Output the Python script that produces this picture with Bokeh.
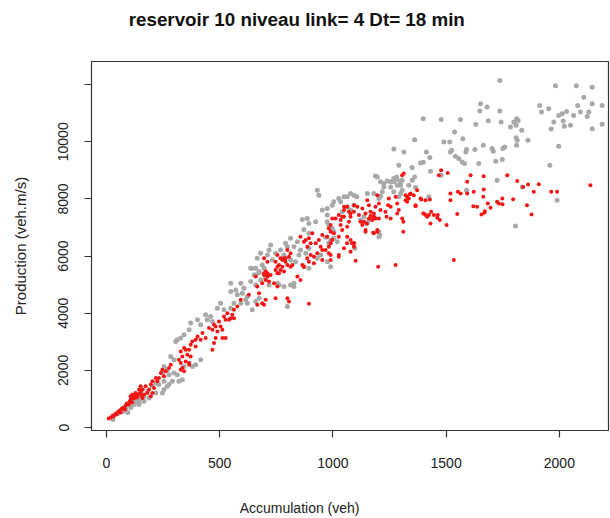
from bokeh.plotting import figure
from bokeh.models import Range1d, FixedTicker, LinearAxis
from bokeh.embed import file_html
from bokeh.resources import INLINE

title_text = "reservoir  10  niveau link= 4  Dt= 18 min"
x_label = "Accumulation (veh)"
y_label = "Production (veh.m/s)"
x_ticks = [0, 500, 1000, 1500, 2000]
y_ticks = [0, 2000, 4000, 6000, 8000, 10000, 12000]

gray_x = [1737, 1983, 2075, 2145, 2108, 1913, 1953, 1921, 2081, 2145, 2189, 2093, 2130, 2123, 1997, 2012, 2031, 2063, 1975, 2017,
          2049, 2022, 2145, 2189, 1964, 1997, 1958, 1990, 1652, 1681, 1649, 1737, 1811, 1818, 1799, 1809, 1784, 1834, 1861, 1809,
          1814, 1811, 1743, 1686, 1631, 1563, 1478, 1399, 1537, 1574, 1490, 1516, 1590, 1587, 1627, 1664, 1703, 1708, 1750, 1759,
          1644, 1719, 1748, 1541, 1556, 1571, 1581, 1519, 1524, 1428, 1413, 1361, 1313, 1269, 1387, 1399, 1350, 1291, 1431, 1478,
          1361, 1269, 1255, 1240, 1225, 1210, 1196, 1188, 1299, 1299, 1281, 1725, 1836, 1590, 1424, 1365, 1049, 1078, 1105, 1181,
          1210, 1203, 1291, 1299, 1207, 1806, 1097,
          1269, 1284, 1306, 1225, 1255, 1284, 1335, 1350, 1218, 1269, 1306,
          1152, 1093, 1063, 1026, 1004, 997, 975, 953, 975, 1034, 1041, 1063, 1078, 1093, 931, 938,
          865, 887, 894, 872, 894, 924, 975, 982, 997, 1004, 968, 990, 982, 1004, 1019, 1093,
          1122, 1137, 1152, 1159, 1181, 1203, 1203,
          843, 828, 857, 880, 850, 894, 813, 791, 799, 769, 784, 813, 835, 725, 718, 711, 747, 733,
          681, 666, 688, 659, 674, 696, 637, 652, 681, 703, 718, 755, 784, 813, 828, 872, 894, 990, 975, 931, 946,
          644, 659, 674, 637, 659, 549, 593, 571, 549, 607, 578, 600, 622, 615, 622, 593, 563,
          504, 490, 519, 549, 460, 438, 445, 468, 372, 402, 416, 365, 343, 328, 313, 306, 284, 298, 416,
          394, 379, 343, 254, 269, 247, 276, 298, 313, 335, 320, 291, 276, 254, 269, 254, 232, 247, 218, 203,
          218, 181, 166, 151, 137, 122, 144, 115, 166, 188, 674, 659, 644, 799, 828, 762,
          28, 50, 72, 85, 94, 107, 120, 129, 143, 151]
gray_y = [12145, 11960, 11960, 11912, 11562, 11273, 11157, 11040, 11273, 11332, 11273, 11040, 11040, 10889, 10924, 10982, 11063, 10924, 10690, 10725,
          10575, 10540, 10460, 10610, 10446, 9842, 9179, 7957, 11332, 11214, 11074, 11074, 10808, 10749, 10690, 10575, 10516, 10400, 10051, 10145,
          10051, 9877, 10690, 10738, 10610, 10784, 10784, 10808, 10341, 10110, 9993, 9993, 9727, 9643, 9727, 9877, 9762, 9667, 9762, 9818,
          9238, 9318, 9378, 9493, 9412, 9294, 9238, 9643, 9702, 9447, 9643, 10075, 9643, 9748, 9259, 9283, 9098, 9179, 8969, 8830,
          8771, 8714, 8597, 8631, 8540, 8597, 8771, 8805, 8597, 8481, 8771, 8655, 8421, 8306, 8072, 8400, 8072, 8191, 8072, 8191,
          8097, 8017, 8072, 8191, 6736, 7050, 6271,
          8597, 8679, 8655, 8421, 8421, 8481, 8481, 8655, 8247, 8247, 8306,
          8191, 8132, 8072, 8017, 7898, 7783, 7667, 7609, 7434, 7898, 7549, 7725, 7609, 7783, 8306, 8132,
          7283, 7318, 7144, 6934, 6795, 7201, 7201, 7085, 6969, 6852, 6655, 6561, 6446, 6620, 6503, 6446,
          7259, 7375, 7144, 7259, 7353, 6851, 6676,
          6503, 6329, 6213, 6096, 6038, 6271, 6620, 6446, 6329, 6213, 6038, 5863, 5805, 6387, 6213, 6038, 6096, 5863,
          6096, 5922, 5689, 5573, 5456, 5573, 5573, 5340, 5165, 5224, 4991, 5050, 4931, 4991, 4931, 5630, 5573, 5630, 5805, 5922, 6038,
          5573, 5340, 5420, 5106, 4991, 5050, 5050, 4816, 4757, 4875, 4642, 4701, 4582, 4467, 4352, 4352, 4352,
          4352, 4177, 4118, 4177, 3884, 3944, 3769, 3710, 3654, 3769, 3595, 3420, 3246, 3131, 3071, 3012, 2488, 2373, 2373,
          2199, 2139, 2139, 2139, 2024, 1909, 1850, 1909, 1850, 1675, 1616, 1616, 1501, 1616, 1441, 1326, 1501, 1211, 1560, 1441,
          1211, 1267, 1092, 1211, 977, 862, 862, 977, 918, 1036, 4527, 4408, 4118, 4233, 5050, 4991,
          279, 489, 558, 663, 524, 698, 803, 907, 803, 1012]

red_x = [2137, 1964, 1990, 1909, 1862, 1887, 1814, 1840, 1877, 1857, 1770, 1796, 1748, 1749, 1725, 1733, 1684, 1696, 1669, 1656,
         1671, 1620, 1637, 1664, 1666, 1666, 1608, 1593, 1552, 1564, 1622, 1593, 1519, 1519, 1549, 1502, 1463, 1472, 1461, 1434,
         1446, 1399, 1409, 1431, 1428, 1390, 1365, 1321, 1328, 1340, 1311, 1311, 1306, 1478, 1507, 1468, 1244, 1255, 1284, 1237,
         1203, 1181, 1166, 1174, 1196, 1178, 1137, 1149, 1130, 1144, 1108, 1093, 1063, 1078, 1049, 1041, 1071, 1063, 1093,
         1049, 1100, 1200, 1277, 1534,
         1313, 1321, 1335, 1343, 1357, 1328, 1365, 1387, 1409, 1401, 1416, 1424, 1372, 1277, 1284, 1291, 1306,
         1247, 1232, 1255, 1196, 1203, 1188, 1210, 1181, 1188, 1159, 1166,
         1152, 1159, 1130, 1144, 1093, 1078, 1115, 1122, 1144, 1196, 1181,
         1049, 1071, 1049, 1034, 1026, 1012, 997, 990, 982, 990, 1004, 975, 997, 990, 982, 968, 982, 990,
         1034, 1041, 1026, 1063, 1078, 1085, 1093, 1063, 1026, 1078,
         953, 938, 924, 946, 953, 931, 916, 909, 894, 880, 902, 857, 872, 887, 902, 887, 894, 916, 953, 990, 1026,
         799, 813, 806, 755, 769, 784, 791, 762, 777, 813, 821, 747, 747, 755, 784, 865, 872,
         696, 711, 703, 696, 711, 659, 688, 666, 843, 857,
         696, 711, 703, 718, 740, 755, 747, 725, 762, 777, 791, 799, 755, 769, 799, 806,
         629, 674, 688, 696, 703, 666, 593, 578, 563, 534, 556, 549, 563, 541, 526, 519,
         497, 482, 504, 512, 490, 468, 453, 475, 512, 526, 482, 475, 468, 424, 438, 416, 402,
         394, 379, 372, 394, 365, 350, 343, 328, 357, 372, 335, 320, 328, 350, 365, 335, 328, 343, 365,
         284, 276, 262, 247, 240, 254, 232, 225, 218, 203, 196, 210, 188, 173, 181, 166, 159, 151, 144, 137, 129, 122, 115, 107,
         196, 203, 894,
         10, 19, 28, 32, 41, 45, 54, 59, 63, 68, 76, 81, 85, 90, 98, 103, 107, 112, 120, 125, 134, 138, 147, 151, 160, 156]
red_y = [8481, 8247, 8247, 8516, 8505, 8247, 8631, 8421, 7458, 7783, 8830, 7992, 8017, 7818, 7898, 7842, 7842, 7690, 7514, 7458,
         7573, 7748, 7725, 8072, 8331, 8795, 8830, 8597, 8247, 8191, 8247, 8191, 8191, 7957, 7469, 7085, 7434, 7259, 7339, 7549,
         7434, 7493, 7434, 7144, 7982, 7982, 7748, 7957, 8072, 8167, 7201, 6851, 8830, 9004, 8910, 8830, 7783, 7725, 7493, 7375,
         7317, 7493, 7399, 7259, 6911, 6816, 7201, 7144, 7085, 6851, 7725, 7783, 7725, 7493, 7609, 7375, 7201, 7026, 6446,
         6271, 5839, 5630, 5689, 5863,
         8889, 8132, 8017, 8191, 8132, 7898, 7783, 8017, 7957, 7493, 7375, 7434, 8306, 8072, 7842, 7609, 7318,
         8017, 7549, 7318, 8132, 7842, 7725, 7609, 7375, 7318, 7318, 7549,
         7957, 7783, 7667, 7493, 7549, 7375, 7434, 7201, 6911, 6851, 6795,
         7725, 7549, 7375, 7259, 7434, 7318, 7318, 7085, 6969, 6852, 6795, 6676, 6561, 6446, 6329, 6213, 6096, 6038,
         7085, 6911, 6676, 6676, 6561, 6446, 6329, 6446, 5980, 6155,
         6736, 6561, 6446, 6329, 6213, 6096, 5980, 6795, 6620, 6561, 6446, 6676, 6503, 6329, 6038, 5922, 5805, 5747, 5863, 5863, 6038,
         6213, 6096, 5980, 6038, 5922, 5922, 5805, 5689, 5630, 5630, 5689, 5805, 5514, 5398, 5456, 5689, 5630,
         5922, 5805, 5456, 5398, 5282, 5282, 5050, 4931, 5282, 5165,
         5340, 5398, 5165, 5106, 5050, 4931, 4527, 5340, 5398, 5863, 5922, 5689, 5630, 5514, 4527, 4408,
         4642, 4701, 4352, 4293, 4467, 4293, 4467, 4233, 4118, 4003, 3944, 3828, 3828, 3769, 3769, 3884,
         3710, 3535, 3535, 3420, 3361, 3420, 3479, 3595, 3131, 3131, 3131, 2956, 2722, 3305, 3131, 3071, 3186,
         3071, 3012, 2897, 2837, 2722, 2722, 2781, 2663, 2548, 2488, 2488, 2373, 2258, 2314, 2258, 2084, 2024, 1965, 2199,
         2199, 2084, 1965, 2024, 1909, 1790, 1735, 1616, 1735, 1616, 1501, 1385, 1326, 1441, 1211, 1152, 1036, 1441, 1326, 1092, 1211, 1036, 1152, 1092,
         1092, 1211, 4328,
         314, 349, 419, 384, 489, 454, 558, 593, 524, 663, 698, 628, 768, 838, 803, 907, 977, 873, 1012, 1082, 1047, 1152, 1187, 1256, 1326, 1117]

FONT = "Liberation Sans"
TEXT = "#222222"

p = figure(width=610, height=518, x_range=Range1d(-66, 2217), y_range=Range1d(-105, 12810),
           output_backend="svg", toolbar_location=None,
           min_border_left=91, min_border_right=2, min_border_top=61, min_border_bottom=87)
p.background_fill_color = "white"
p.border_fill_color = "white"
p.grid.visible = False
p.outline_line_color = "#333333"
p.outline_line_width = 1.2

p.scatter(gray_x, gray_y, size=5, color="#a8a8a8", line_color=None)
p.scatter(red_x, red_y, size=4, color="#f51414", line_color=None)

for ax in (p.xaxis[0], p.yaxis[0]):
    ax.axis_line_color = None
    ax.major_tick_line_color = "#333333"
    ax.major_tick_line_width = 1.2
    ax.major_tick_out = 7
    ax.major_tick_in = 0
    ax.minor_tick_line_color = None
    ax.major_label_text_font = FONT
    ax.major_label_text_font_size = "14px"
    ax.major_label_text_color = TEXT

p.xaxis[0].ticker = FixedTicker(ticks=x_ticks)
p.xaxis[0].major_label_standoff = 20

p.yaxis[0].ticker = FixedTicker(ticks=y_ticks)
p.yaxis[0].major_label_overrides = {12000: ""}
p.yaxis[0].major_label_orientation = "vertical"
p.yaxis[0].major_label_standoff = 16
p.yaxis[0].axis_label = y_label
p.yaxis[0].axis_label_text_font = FONT
p.yaxis[0].axis_label_text_font_style = "normal"
p.yaxis[0].axis_label_text_font_size = "15px"
p.yaxis[0].axis_label_text_color = TEXT
p.yaxis[0].axis_label_standoff = 27


def text_axis(at, text, standoff, size, style, color):
    # an axis carrying one label, used to place the title / x-axis title off-centre like the original
    a = LinearAxis(ticker=FixedTicker(ticks=[at]), major_label_overrides={at: text})
    a.axis_line_color = None
    a.major_tick_line_color = None
    a.minor_tick_line_color = None
    a.major_tick_in = 0
    a.major_tick_out = 0
    a.minor_tick_in = 0
    a.minor_tick_out = 0
    a.major_label_standoff = standoff
    a.major_label_text_font = FONT
    a.major_label_text_font_size = size
    a.major_label_text_font_style = style
    a.major_label_text_color = color
    return a


p.add_layout(text_axis(875, title_text, 32, "18.8px", "bold", "#111111"), "above")
p.add_layout(text_axis(853, x_label, 29, "14px", "normal", TEXT), "below")

open("out.html", "w").write(file_html(p, INLINE))
